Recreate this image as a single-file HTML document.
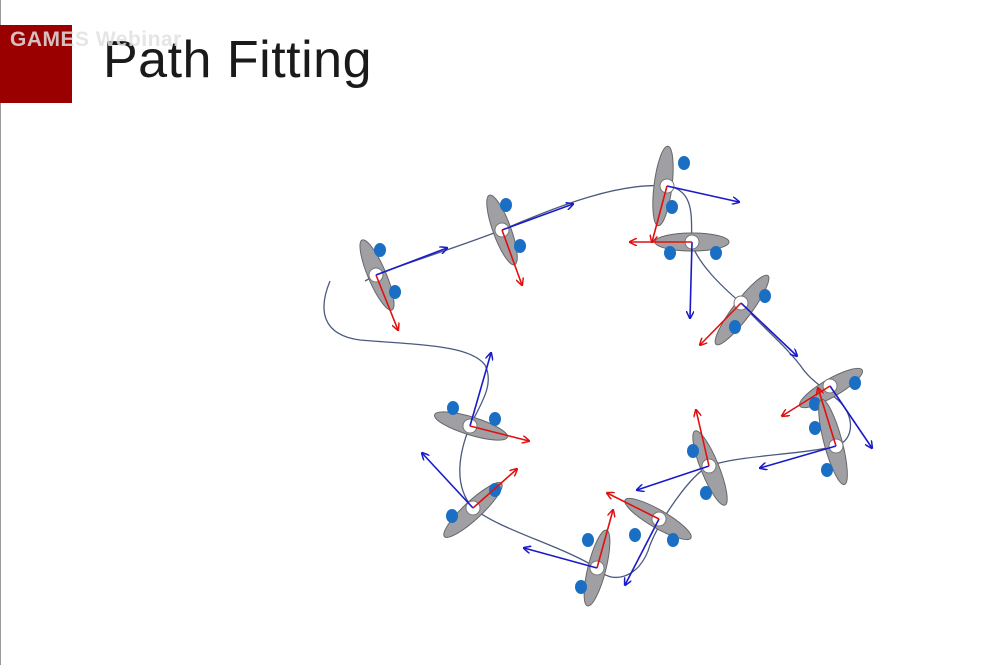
<!DOCTYPE html>
<html><head><meta charset="utf-8"><style>
body{margin:0;background:#fff;width:1005px;height:665px;overflow:hidden;position:relative;font-family:"Liberation Sans",sans-serif}
#bar{position:absolute;left:0;top:25px;width:72px;height:78px;background:#9b0000}
#wm{position:absolute;left:10px;top:28px;font-size:21px;font-weight:bold;color:rgba(225,225,225,0.85);letter-spacing:0.5px}
#title{position:absolute;left:103px;top:30px;font-size:52px;color:#1a1a1a;font-weight:300;letter-spacing:0.5px}
#edge{position:absolute;left:0;top:0;width:1px;height:665px;background:#999}
svg{position:absolute;left:0;top:0}
</style></head><body>
<div id="edge"></div>
<div id="bar"></div>
<div id="title">Path Fitting</div>
<div id="wm">GAMES Webinar</div>
<svg id="fig" width="1005" height="665">
<defs>
<marker id="ab" markerWidth="8" markerHeight="8" refX="7" refY="4" orient="auto" markerUnits="userSpaceOnUse"><path d="M0,0 L8,4 L0,8" fill="none" stroke="#1a1ac8" stroke-width="1.5"/></marker>
<marker id="ar" markerWidth="8" markerHeight="8" refX="7" refY="4" orient="auto" markerUnits="userSpaceOnUse"><path d="M0,0 L8,4 L0,8" fill="none" stroke="#e01010" stroke-width="1.5"/></marker>
</defs>
<path fill="none" stroke="#4a5a80" stroke-width="1.3"
d="M330,281 C318,310 322,335 360,340 C420,345 470,345 485,365 C495,385 480,405 470,426 C460,450 452,485 473,508 C500,530 560,545 597,568 C610,585 640,580 650,545 C660,520 690,475 709,466 C740,455 800,455 836,446 C855,440 855,415 838,400 C820,385 810,380 800,365 C780,340 760,325 741,303 C720,285 700,265 692,245 C690,225 698,190 667,186 C620,182 560,205 502,230 C450,250 400,265 376,275 L365,281"/>
<g id="sk"></g>
</svg>
<script>
// skater poses: pivot, ellipse center/angle/half-length, arrows, dots
const pivots=[[376,275],[502,230],[667,186],[692,242],[741,303],[830,386],[836,446],[709,466],[659,519],[597,568],[473,508],[470,426]];
const centers=[[377,275],[502,230],[663,186],[692,242],[742,310],[831,388],[833,442],[710,468],[658,519],[597,568],[473,510],[471,426]];
const angles=[67,70,97,0,127,150,75,68,30,104,137,17];
const halfLen=[38,37,40,37,43,36,44,40,38,39,39,38];
const blueTips=[[447,248],[573,204],[739,202],[690,318],[797,356],[872,448],[760,468],[637,490],[625,585],[524,548],[422,453],[491,353]];
const redTips=[[398,330],[522,285],[652,242],[630,242],[700,345],[782,416],[818,388],[696,410],[607,493],[613,510],[517,469],[529,441]];
const dotsA=[[380,250],[506,205],[684,163],[670,253],[765,296],[855,383],[815,428],[693,451],[635,535],[588,540],[452,516],[453,408]];
const dotsB=[[395,292],[520,246],[672,207],[716,253],[735,327],[815,404],[827,470],[706,493],[673,540],[581,587],[495,490],[495,419]];
const NS="http://www.w3.org/2000/svg";
const g=document.getElementById('sk');
function mk(t,a){const e=document.createElementNS(NS,t);for(const k in a)e.setAttribute(k,a[k]);g.appendChild(e);return e;}
for(let i=0;i<pivots.length;i++){
  const c=centers[i];
  const el=mk('ellipse',{cx:c[0],cy:c[1],rx:halfLen[i],ry:9,fill:'#a0a0a4',stroke:'#666',"stroke-width":1,transform:`rotate(${angles[i]} ${c[0]} ${c[1]})`});
  
  
  for(const d of [dotsA[i],dotsB[i]]){
    const dt=mk('ellipse',{cx:d[0],cy:d[1],rx:6,ry:7,fill:'#1a6fc4'});
    
    
  }
  const p=pivots[i];
  const cc=mk('circle',{cx:p[0],cy:p[1],r:7,fill:'#fff',stroke:'#777',"stroke-width":1});
  
  
  const b=mk('line',{x1:p[0],y1:p[1],x2:blueTips[i][0],y2:blueTips[i][1],stroke:'#1a1ac8',"stroke-width":1.6,"marker-end":'url(#ab)'});
  
  
  const r=mk('line',{x1:p[0],y1:p[1],x2:redTips[i][0],y2:redTips[i][1],stroke:'#e01010',"stroke-width":1.6,"marker-end":'url(#ar)'});
  
  
}
</script>
</body></html>
